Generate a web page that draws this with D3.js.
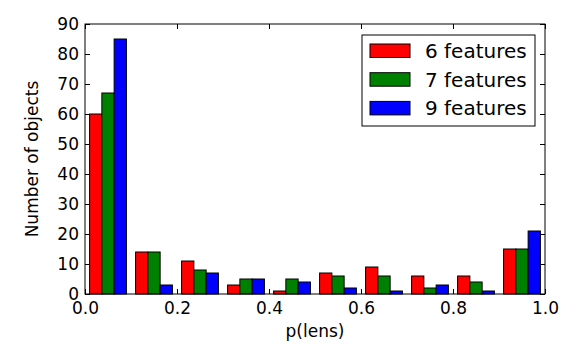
<!DOCTYPE html>
<html>
<head>
<meta charset="utf-8">
<script src="https://cdn.jsdelivr.net/npm/d3@7"></script>
<style>
  body { margin: 0; background: #fff; }
  text { font-family: "DejaVu Sans", sans-serif; }
</style>
</head>
<body>
<div id="chart"></div>
<script>
const binEdges = [0, 0.1, 0.2, 0.3, 0.4, 0.5, 0.6, 0.7, 0.8, 0.9, 1.0];
const seriesNames = ["6 features", "7 features", "9 features"];
const seriesColors = ["#ff0000", "#008000", "#0000ff"];
const counts6 = [60, 14, 11, 3, 1, 7, 9, 6, 6, 15];
const counts7 = [67, 14, 8, 5, 5, 6, 6, 2, 4, 15];
const counts9 = [85, 3, 7, 5, 4, 2, 1, 3, 1, 21];
const xTicks = [0, 0.2, 0.4, 0.6, 0.8, 1.0];
const yTicks = [0, 10, 20, 30, 40, 50, 60, 70, 80, 90];

const width = 580, height = 353;
const margin = {left: 85, right: 35, top: 24, bottom: 59};

const svg = d3.select("#chart").append("svg")
    .attr("width", width)
    .attr("height", height);

const x = d3.scaleLinear().domain([0, 1]).range([margin.left, width - margin.right]);
const y = d3.scaleLinear().domain([0, 90]).range([height - margin.bottom, margin.top]);

const series = [counts6, counts7, counts9];
// matplotlib style: bars take 80% of bin, split among series
const barW = 0.8 * 0.1 / series.length;

series.forEach((vals, si) => {
    svg.append("g")
        .selectAll("rect")
        .data(vals)
        .join("rect")
        .attr("x", (d, i) => x(binEdges[i] + 0.01 + si * barW))
        .attr("width", x(barW) - x(0))
        .attr("y", d => y(d))
        .attr("height", d => y(0) - y(d))
        .attr("fill", seriesColors[si])
        .attr("stroke", "#000")
        .attr("stroke-width", 1);
});

// frame
svg.append("rect")
    .attr("x", x(0)).attr("y", y(90))
    .attr("width", x(1) - x(0)).attr("height", y(0) - y(90))
    .attr("fill", "none").attr("stroke", "#000").attr("stroke-width", 1);

const tickLen = 5;
// ticks point inward on all four sides
const xb = svg.append("g").attr("transform", `translate(0,${y(0)})`)
    .call(d3.axisBottom(x).tickValues(xTicks).tickFormat(d3.format(".1f")).tickSizeInner(-tickLen).tickSizeOuter(0).tickPadding(8));
const xt = svg.append("g").attr("transform", `translate(0,${y(90)})`)
    .call(d3.axisTop(x).tickValues(xTicks).tickFormat("").tickSizeInner(-tickLen).tickSizeOuter(0));
const yl = svg.append("g").attr("transform", `translate(${x(0)},0)`)
    .call(d3.axisLeft(y).tickValues(yTicks).tickSizeInner(-tickLen).tickSizeOuter(0).tickPadding(6));
const yr = svg.append("g").attr("transform", `translate(${x(1)},0)`)
    .call(d3.axisRight(y).tickValues(yTicks).tickFormat("").tickSizeInner(-tickLen).tickSizeOuter(0));

[xb, xt, yl, yr].forEach(g => {
    g.select(".domain").remove();
    g.selectAll("line").attr("stroke", "#000");
    g.selectAll("text").attr("fill", "#000").style("font-size", "17px").style("font-family", "DejaVu Sans");
});

svg.append("text")
    .attr("x", x(0.5)).attr("y", 337)
    .attr("text-anchor", "middle")
    .style("font-size", "17px")
    .text("p(lens)");

svg.append("text")
    .attr("transform", `translate(38,${y(45)}) rotate(-90)`)
    .attr("text-anchor", "middle")
    .style("font-size", "17px")
    .text("Number of objects");

// legend
const legend = svg.append("g").attr("transform", "translate(362,35)");
legend.append("rect")
    .attr("width", 173).attr("height", 91)
    .attr("fill", "#fff").attr("stroke", "#000").attr("stroke-width", 1);
const items = legend.selectAll("g.item")
    .data(seriesNames)
    .join("g")
    .attr("class", "item")
    .attr("transform", (d, i) => `translate(0,${9 + i * 28.7})`);
items.append("rect")
    .attr("x", 8).attr("width", 40).attr("height", 13.5)
    .attr("fill", (d, i) => seriesColors[i])
    .attr("stroke", "#000");
items.append("text")
    .attr("x", 63).attr("y", 14)
    .style("font-size", "20px")
    .text(d => d);
</script>
</body>
</html>
